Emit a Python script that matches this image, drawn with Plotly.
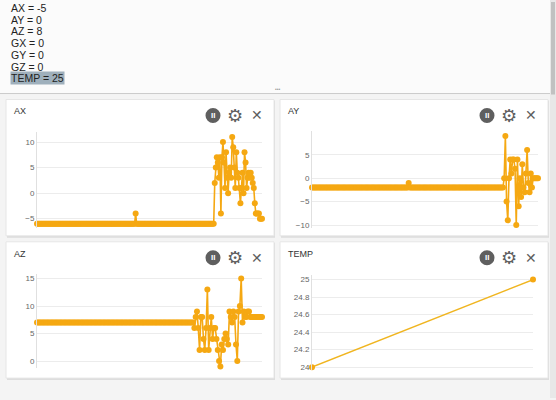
import plotly.graph_objects as go

W, H = 556, 400
status_labels = ["AX", "AY", "AZ", "GX", "GY", "GZ", "TEMP"]
status_values = [-5, 0, 8, 0, 0, 0, 25]

ax_vals = [-6] * 96 + [-4] + [-6] * 76 + [2, 5, 7, 6, 3, 7, -4, 7, 10, 6, 1, 8, 3, 0, 4, 5, 3, 11, 9, 5, 1, 8, 4, 3, 1, -2, 1, 4, 0, 8, 6, 1, 3, 4, 3, 4, 3, 2, 1, -2, -4, -4, -4, -4, -5, -5, -5]
ay_vals = [-2] * 80 + [-1] + [-2] * 78 + [0, 9, -5, -9, 0, 4, 1, 4, 4, 2, -10, 4, -6, 0, -4, 3, -2, -3, 1, 6, -1, -3, 1, -2, 0, 0, 0, 0, 0]
az_vals = [7] * 120 + [7, 6, 8, 9, 6, 2, 8, 8, 4, 2, 6, 13, 2, 6, 8, 4, 6, 6, 4, 2, 0, -1, 3, 2, 4, 5, 4, 3, 9, 8, 7, 9, 8, 3, 0, 9, 10, 15, 7, 9, 8, 8, 9, 9, 8, 8, 8, 8, 8, 8, 8, 8, 8, 8]
temp_vals = [24, 25]

ORANGE = "#f5a812"
fig = go.Figure()

def px(x): return x / W
def py(y): return 1 - y / H

def ann(x, y, text, size, color, xanchor="center", family="Liberation Sans", **kw):
    return dict(x=px(x), y=py(y), xref="paper", yref="paper", xanchor=xanchor, yanchor="middle",
                showarrow=False, text=text, font=dict(size=size, color=color, family=family), **kw)

panels = [
    ("AX", ax_vals, (6, 100, 274, 237), (37, 262), (133, 229), [-6.8, 11.9], [-5, 0, 5, 10], None),
    ("AY", ay_vals, (280, 100, 548, 237), (312, 538), (132, 229), [-10.6, 10], [-10, -5, 0, 5], None),
    ("AZ", az_vals, (6, 243, 274, 380), (37, 262), (275, 370), [-1.3, 15.9], [0, 5, 10, 15], None),
    ("TEMP", temp_vals, (280, 243, 548, 380), (312, 533), (276, 372), [23.966, 25.057], [24, 24.2, 24.4, 24.6, 24.8, 25], 1.5),
]
shapes, anns = [], []
shapes.append(dict(type="rect", xref="paper", yref="paper", x0=0, x1=px(550), y0=py(94), y1=1, fillcolor="#fbfbfb", line_width=0, layer="below"))
shapes.append(dict(type="line", xref="paper", yref="paper", x0=0, x1=px(550), y0=py(94), y1=py(94), line=dict(color="#cccccc", width=1)))
anns.append(ann(278, 89, "•••", 5, "#999"))
shapes.append(dict(type="rect", xref="paper", yref="paper", x0=px(550), x1=1, y0=0, y1=1, fillcolor="#e8e8e8", line_width=0))
shapes.append(dict(type="rect", xref="paper", yref="paper", x0=px(551), x1=px(555), y0=py(95), y1=py(2), fillcolor="#c1c1c1", line_width=0))

for i, (lab, val) in enumerate(zip(status_labels, status_values)):
    y = 8 + i * 11.8
    anns.append(ann(10, y, f"{lab} = {val}", 10.5, "#222", xanchor="left",
                    bgcolor="#9fb0bc" if lab == "TEMP" else None, borderpad=0))

for k, (name, vals, box, xd, yd, yr, tv, lw) in enumerate(panels):
    x0, y0, x1, y1 = box
    shapes.append(dict(type="rect", xref="paper", yref="paper", x0=px(x0 + 1), x1=px(x1 + 1), y0=py(y1 + 2), y1=py(y0 + 1), fillcolor="#dddddd", line_width=0, layer="below"))
    shapes.append(dict(type="rect", xref="paper", yref="paper", x0=px(x0), x1=px(x1), y0=py(y1), y1=py(y0), fillcolor="white", line=dict(color="#e6e6e6", width=1), layer="below"))
    anns.append(ann(x0 + 6, y0 + 12, name, 9, "#333", xanchor="left"))
    cx = x1 - 61
    shapes.append(dict(type="circle", xref="paper", yref="paper", x0=px(cx - 7.5), x1=px(cx + 7.5), y0=py(y0 + 23.5), y1=py(y0 + 8.5), fillcolor="#5f5f5f", line_width=0))
    anns.append(ann(cx, y0 + 16, "<b>II</b>", 8, "white"))
    anns.append(ann(x1 - 39, y0 + 16, "⚙", 18, "#5f5f5f", family="DejaVu Sans"))
    anns.append(ann(x1 - 17, y0 + 16, "✕", 14, "#5f5f5f", family="DejaVu Sans"))
    xs = list(range(len(vals)))
    suf = "" if k == 0 else str(k + 1)
    fig.add_trace(go.Scatter(x=xs, y=vals, mode="lines+markers", xaxis="x" + suf, yaxis="y" + suf,
                             line=dict(color=ORANGE if name != "TEMP" else "#f0b520", width=lw or 1.6),
                             marker=dict(size=6, color=ORANGE), cliponaxis=False, showlegend=False))
    fig.layout["xaxis" + suf] = dict(domain=[px(xd[0]), px(xd[1])], range=[0, max(xs)], anchor="y" + suf,
                                     showgrid=False, showticklabels=False, zeroline=False, showline=False)
    fig.layout["yaxis" + suf] = dict(domain=[py(yd[1]), py(yd[0])], range=yr, anchor="x" + suf, tickvals=tv,
                                     showgrid=True, gridcolor="#ececec", zeroline=False, showline=True, linecolor="#e0e0e0",
                                     tickfont=dict(size=8, color="#666"), ticks="")

fig.update_layout(width=W, height=H, margin=dict(l=0, r=0, t=0, b=0), paper_bgcolor="#f4f4f4", plot_bgcolor="white",
                  shapes=shapes, annotations=anns, font=dict(family="Liberation Sans"))
fig.write_html("out.html", config={"displayModeBar": False},
               post_script="document.body.style.margin='0';document.body.style.overflow='hidden';")
